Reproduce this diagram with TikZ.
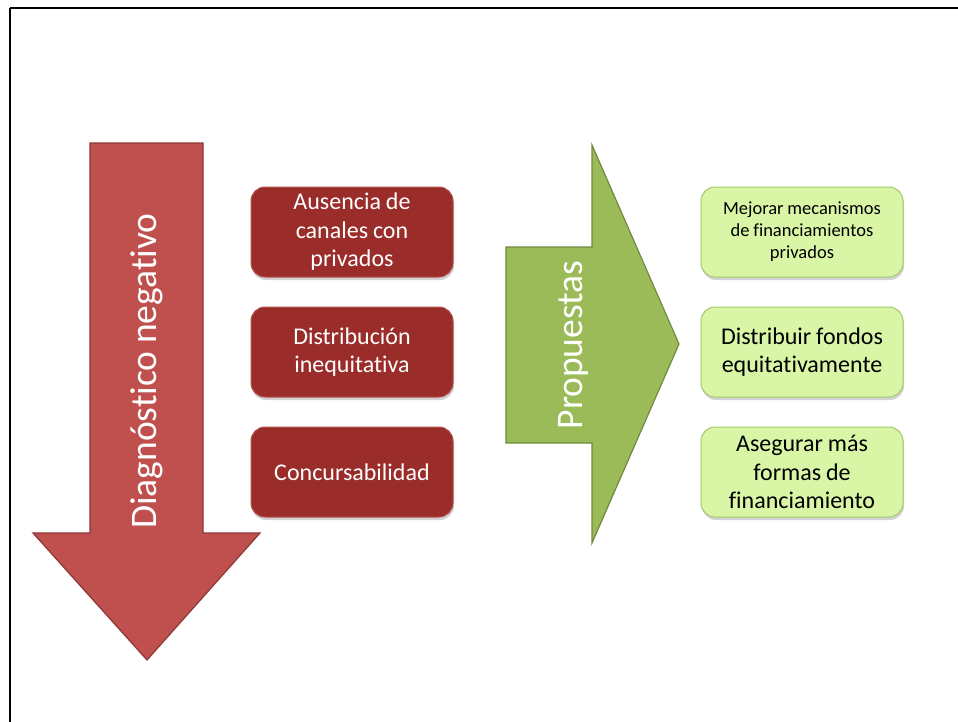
\documentclass[tikz,border=0pt]{standalone}
\usepackage{fontspec}
\setmainfont[WordSpace=0.9, Ligatures={NoCommon}]{Carlito}
\usetikzlibrary{shadows}
\definecolor{arrowred}{HTML}{C0504D}
\definecolor{arrowredline}{HTML}{8C3836}
\definecolor{boxred}{HTML}{9A2C2A}
\definecolor{boxredline}{HTML}{B65350}
\definecolor{arrowgreen}{HTML}{9BBB59}
\definecolor{arrowgreenline}{HTML}{71893F}
\definecolor{boxgreen}{HTML}{D9F5A6}
\definecolor{boxgreenline}{HTML}{A6C86A}
\tikzset{
  redbox/.style={draw=boxredline, line width=1pt, fill=boxred, rounded corners=14pt,
    minimum width=202pt, minimum height=90pt, align=center,
    text=white, font=\fontsize{24}{28.5}\selectfont,
    drop shadow={opacity=0.35, shadow xshift=1pt, shadow yshift=-3pt}},
  greenbox/.style={draw=boxgreenline, line width=1pt, fill=boxgreen, rounded corners=14pt,
    minimum width=202pt, minimum height=90pt, align=center,
    text=black, font=\fontsize{24}{28.5}\selectfont,
    drop shadow={opacity=0.35, shadow xshift=1pt, shadow yshift=-3pt}},
  bigarrow/.style={line width=1.2pt, line join=miter},
  arrowlabel/.style={text=white, font=\fontsize{37.5}{42}\selectfont, rotate=90}
}
\begin{document}
\begin{tikzpicture}[x=1pt, y=-1pt]
  \useasboundingbox (0,0) rectangle (958,721);
  % page frame
  \draw[line width=2pt] (10,7.5) -- (970,7.5);
  \draw[line width=2pt] (10,7.5) -- (10,730);
  % downward arrow: negative diagnosis
  \draw[bigarrow, draw=arrowredline, fill=arrowred]
    (90,143) -- (203,143) -- (203,533) -- (260,533) -- (147,660)
    -- (33,533) -- (90,533) -- cycle;
  \node[arrowlabel] (diag) at (147,371) {Diagnóstico negativo};
  % problem boxes
  \node[redbox] (r1) at (352,232) {Ausencia de\\canales con\\privados};
  \node[redbox] (r2) at (352,352) {Distribución\\inequitativa};
  \node[redbox] (r3) at (352,472) {Concursabilidad};
  % right arrow: proposals
  \draw[bigarrow, draw=arrowgreenline, fill=arrowgreen]
    (506,247) -- (592,247) -- (592,145) -- (679,344) -- (592,543)
    -- (592,443) -- (506,443) -- cycle;
  \node[arrowlabel] (prop) at (573,345) {Propuestas};
  % proposal boxes
  \node[greenbox, font=\fontsize{18.5}{22}\selectfont] (g1) at (802,232)
    {Mejorar mecanismos\\de financiamientos\\privados};
  \node[greenbox] (g2) at (802,352) {Distribuir fondos\\equitativamente};
  \node[greenbox] (g3) at (802,472) {Asegurar más\\formas de\\financiamiento};
\end{tikzpicture}
\end{document}
